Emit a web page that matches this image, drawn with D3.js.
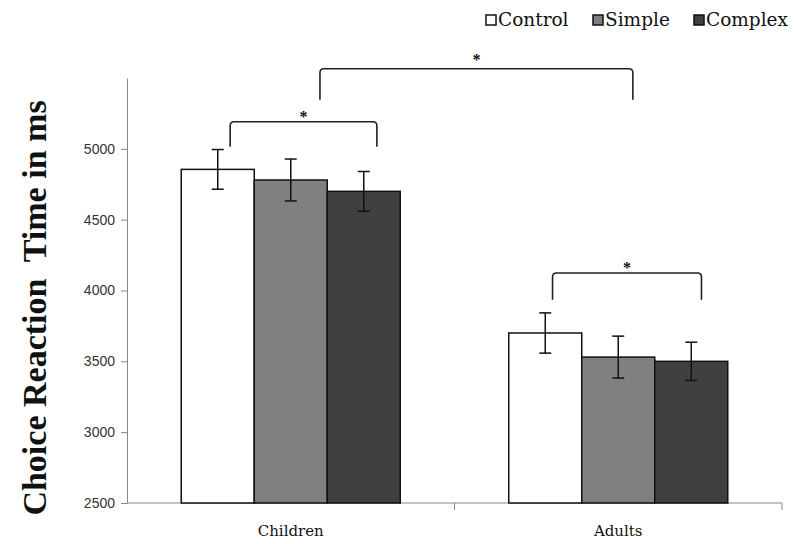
<!DOCTYPE html>
<html>
<head>
<meta charset="utf-8">
<script src="https://cdn.jsdelivr.net/npm/d3@7"></script>
<style>
  body { margin: 0; background: #fff; }
  .tick text { font-family: "Liberation Sans", Arial, sans-serif; font-size: 14px; fill: #333; }
  .legend text { font-family: "DejaVu Serif", serif; font-size: 18.5px; fill: #111; }
  .cat { font-family: "DejaVu Serif", serif; font-size: 15px; fill: #111; }
  .ytitle { font-family: "Liberation Serif", serif; font-weight: bold; font-size: 34px; fill: #111; }
</style>
</head>
<body>
<svg width="795" height="544"></svg>
<script>
// chart data
var groups = ["Children", "Adults"];
var series = ["Control", "Simple", "Complex"];
var fills = ["#ffffff", "#808080", "#404040"];
var childrenMeans = [4855, 4780, 4700];
var childrenErr = [140, 148, 140];
var adultsMeans = [3700, 3530, 3500];
var adultsErr = [142, 148, 135];
var yTicks = [2500, 3000, 3500, 4000, 4500, 5000];

// significance brackets: bar index position (0 = left edge of group), y in ms
var brackets = [
    { g0: "Children", p0: 0.67, g1: "Children", p1: 2.68, top: 5191, leg: 5014, star: 5254 },
    { g0: "Adults", p0: 0.60, g1: "Adults", p1: 2.64, top: 4124, leg: 3934, star: 4188 },
    { g0: "Children", p0: 1.90, g1: "Adults", p1: 1.70, top: 5565, leg: 5346, star: 5657 }
];

var data = [
    { group: "Children", means: childrenMeans, err: childrenErr },
    { group: "Adults", means: adultsMeans, err: adultsErr }
];

var svg = d3.select("svg");
var color = d3.scaleOrdinal().domain(series).range(fills);

var x0 = d3.scaleBand().domain(groups).range([127, 782]);
var x1 = d3.scaleBand().domain(series).range([0, x0.bandwidth()]).paddingOuter(0.743);
var y = d3.scaleLinear().domain([2500, 5500]).range([503, 78]);

function barPos(g, p) {
    return x0(g) + x1("Control") + p * x1.bandwidth();
}

// y axis
var yAxis = svg.append("g")
    .attr("transform", "translate(127,0)")
    .call(d3.axisLeft(y).tickValues(yTicks).tickFormat(d3.format("d"))
        .tickSize(6).tickSizeOuter(0).tickPadding(6));
yAxis.select(".domain").attr("stroke", "#888");
yAxis.selectAll(".tick line").attr("stroke", "#888");

// x axis, ticks between categories like excel
var xAxis = svg.append("g").attr("class", "xaxis");
xAxis.append("line")
    .attr("x1", x0.range()[0]).attr("x2", x0.range()[1])
    .attr("y1", y(2500)).attr("y2", y(2500))
    .attr("stroke", "#888").attr("stroke-width", 1);
xAxis.selectAll(".xt")
    .data(groups.map(function (g) { return x0(g) + x0.bandwidth(); }))
    .enter().append("line")
    .attr("x1", function (d) { return d; }).attr("x2", function (d) { return d; })
    .attr("y1", y(2500)).attr("y2", y(2500) + 7)
    .attr("stroke", "#888");
xAxis.selectAll(".cat")
    .data(groups)
    .enter().append("text")
    .attr("class", "cat")
    .attr("x", function (d) { return x0(d) + x0.bandwidth() / 2; })
    .attr("y", 536)
    .attr("text-anchor", "middle")
    .text(function (d) { return d; });

// axis title
svg.append("text")
    .attr("class", "ytitle")
    .attr("transform", "translate(46," + 308 + ") rotate(-90)")
    .attr("text-anchor", "middle")
    .attr("xml:space", "preserve")
    .text("Choice Reaction  Time in ms");

// bars
var grp = svg.selectAll(".grp")
    .data(data)
    .enter().append("g")
    .attr("class", "grp")
    .attr("transform", function (d) { return "translate(" + x0(d.group) + ",0)"; });

var bars = grp.selectAll(".bar")
    .data(function (d) {
        return series.map(function (s, i) { return { s: s, v: d.means[i], e: d.err[i] }; });
    })
    .enter().append("g").attr("class", "bar");

bars.append("rect")
    .attr("x", function (d) { return x1(d.s); })
    .attr("y", function (d) { return y(d.v); })
    .attr("width", x1.bandwidth())
    .attr("height", function (d) { return y(2500) - y(d.v); })
    .attr("fill", function (d) { return color(d.s); })
    .attr("stroke", "#111")
    .attr("stroke-width", 1.5);

// error bars
var cap = 6;
bars.append("line")
    .attr("x1", function (d) { return x1(d.s) + x1.bandwidth() / 2; })
    .attr("x2", function (d) { return x1(d.s) + x1.bandwidth() / 2; })
    .attr("y1", function (d) { return y(d.v + d.e); })
    .attr("y2", function (d) { return y(d.v - d.e); })
    .attr("stroke", "#111").attr("stroke-width", 1.5);
["+", "-"].forEach(function (sign) {
    bars.append("line")
        .attr("x1", function (d) { return x1(d.s) + x1.bandwidth() / 2 - cap; })
        .attr("x2", function (d) { return x1(d.s) + x1.bandwidth() / 2 + cap; })
        .attr("y1", function (d) { return y(sign == "+" ? d.v + d.e : d.v - d.e); })
        .attr("y2", function (d) { return y(sign == "+" ? d.v + d.e : d.v - d.e); })
        .attr("stroke", "#111").attr("stroke-width", 1.5);
});

// significance brackets
var r = 4;
var br = svg.selectAll(".bracket")
    .data(brackets)
    .enter().append("g").attr("class", "bracket");

br.append("path")
    .attr("d", function (d) {
        var a = barPos(d.g0, d.p0), b = barPos(d.g1, d.p1);
        var t = y(d.top), l = y(d.leg);
        return "M" + a + "," + l + "L" + a + "," + (t + r) +
            "Q" + a + "," + t + " " + (a + r) + "," + t +
            "L" + (b - r) + "," + t +
            "Q" + b + "," + t + " " + b + "," + (t + r) +
            "L" + b + "," + l;
    })
    .attr("fill", "none").attr("stroke", "#222").attr("stroke-width", 1.6);

br.append("text")
    .attr("x", function (d) { return (barPos(d.g0, d.p0) + barPos(d.g1, d.p1)) / 2; })
    .attr("y", function (d) { return y(d.star) + 9; })
    .attr("text-anchor", "middle")
    .attr("font-family", "Liberation Serif, serif")
    .attr("font-weight", "bold")
    .attr("font-size", 16)
    .attr("fill", "#111")
    .text("*");

// legend
var legendX = [486, 593, 694];
var legend = svg.append("g").attr("class", "legend");
var item = legend.selectAll(".item")
    .data(series)
    .enter().append("g")
    .attr("transform", function (d, i) { return "translate(" + legendX[i] + ",15)"; });
item.append("rect")
    .attr("width", 10).attr("height", 10)
    .attr("fill", function (d) { return color(d); })
    .attr("stroke", "#111").attr("stroke-width", 1.5);
item.append("text")
    .attr("x", 12).attr("y", 11)
    .text(function (d) { return d; });
</script>
</body>
</html>
